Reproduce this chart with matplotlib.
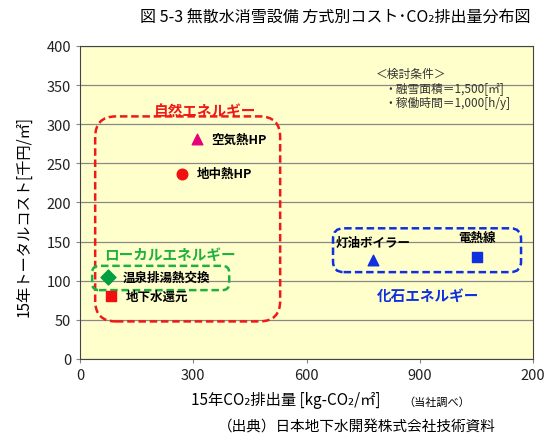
import matplotlib
matplotlib.use('Agg')
import matplotlib.pyplot as plt
from matplotlib.patches import FancyBboxPatch

plt.rcParams['font.family'] = ['Noto Sans CJK JP', 'DejaVu Sans']

# data
names = ['空気熱HP', '地中熱HP', '温泉排湯熱交換', '地下水還元', '灯油ボイラー', '電熱線']
co2 = [310, 270, 74, 82, 776, 1052]
cost = [281, 237, 105, 80, 127, 130]
markers = ['^', 'o', 'D', 's', '^', 's']
colors = ['#E8007A', '#F01010', '#00A040', '#F01010', '#1030E0', '#1030E0']

xticks = [0, 300, 600, 900, 1200]
xtick_labels = ['0', '300', '600', '900', '200']
yticks = [0, 50, 100, 150, 200, 250, 300, 350, 400]

# groups: (label, colour, box x0, y0, x1, y1, corner, label x, label y)
groups = [
    ('自然エネルギー', '#F01818', 40, 48, 530, 310, 55, 330, 318),
    ('ローカルエネルギー', '#20B040', 32, 88, 395, 119, 18, 238, 135),
    ('化石エネルギー', '#1030E0', 670, 111, 1168, 167, 28, 922, 82),
]

fig = plt.figure(figsize=(5.6, 4.39), dpi=100)
ax = fig.add_axes([0.143, 0.18, 0.809, 0.713])
ax.set_facecolor('#FFFFCC')
ax.set_xlim(0, 1200)
ax.set_ylim(0, 400)
ax.set_xticks(xticks)
ax.set_xticklabels(xtick_labels)
ax.set_yticks(yticks)
ax.tick_params(labelsize=10.5, length=3, color='#888888', labelcolor='#222222')
ax.yaxis.grid(True, color='#888888', linewidth=0.9)
ax.set_axisbelow(True)
for s in ax.spines.values():
    s.set_color('#444444')

for n, x, y, m, c in zip(names, co2, cost, markers, colors):
    ax.scatter(x, y, marker=m, s=58, color=c, zorder=3)

# point labels
ax.text(co2[0] + 38, cost[0], names[0], fontsize=9, fontweight='bold', va='center')
ax.text(co2[1] + 38, cost[1], names[1], fontsize=9, fontweight='bold', va='center')
ax.text(co2[2] + 40, cost[2], names[2], fontsize=9, fontweight='bold', va='center')
ax.text(co2[3] + 38, cost[3], names[3], fontsize=9, fontweight='bold', va='center')
ax.text(co2[4], cost[4] + 22, names[4], fontsize=9, fontweight='bold', ha='center', va='center')
ax.text(co2[5], cost[5] + 25, names[5], fontsize=9, fontweight='bold', ha='center', va='center')

for lab, c, x0, y0, x1, y1, r, lx, ly in groups:
    box = FancyBboxPatch((x0, y0), x1 - x0, y1 - y0,
                         boxstyle='round,pad=0,rounding_size=%d' % r,
                         mutation_aspect=0.482, fill=False, edgecolor=c,
                         linestyle=(0, (3, 1.5)), linewidth=1.8, zorder=2)
    ax.add_patch(box)
    ax.text(lx, ly, lab, color=c, fontsize=10.5, fontweight='bold',
            ha='center', va='center')

ax.text(784, 365, '＜検討条件＞', fontsize=8.5, color='#333333', va='center')
ax.text(805, 347, '・融雪面積＝1,500[㎡]', fontsize=8.5, color='#333333', va='center')
ax.text(805, 328, '・稼働時間＝1,000[h/y]', fontsize=8.5, color='#333333', va='center')

ax.set_ylabel('15年トータルコスト[千円/㎡]', fontsize=11)
ax.yaxis.set_label_coords(-0.106, 0.457)
fig.text(0.511, 0.088, '15年CO₂排出量 [kg-CO₂/㎡]', fontsize=11, ha='center', va='center')
fig.text(0.78, 0.082, '（当社調べ）', fontsize=8, ha='center', va='center')
fig.text(0.638, 0.027, '（出典）日本地下水開発株式会社技術資料', fontsize=10.5, ha='center', va='center')
fig.text(0.598, 0.958, '図 5-3 無散水消雪設備 方式別コスト･CO₂排出量分布図', fontsize=11.5,
         ha='center', va='center')

fig.savefig('out.png', dpi=100)
